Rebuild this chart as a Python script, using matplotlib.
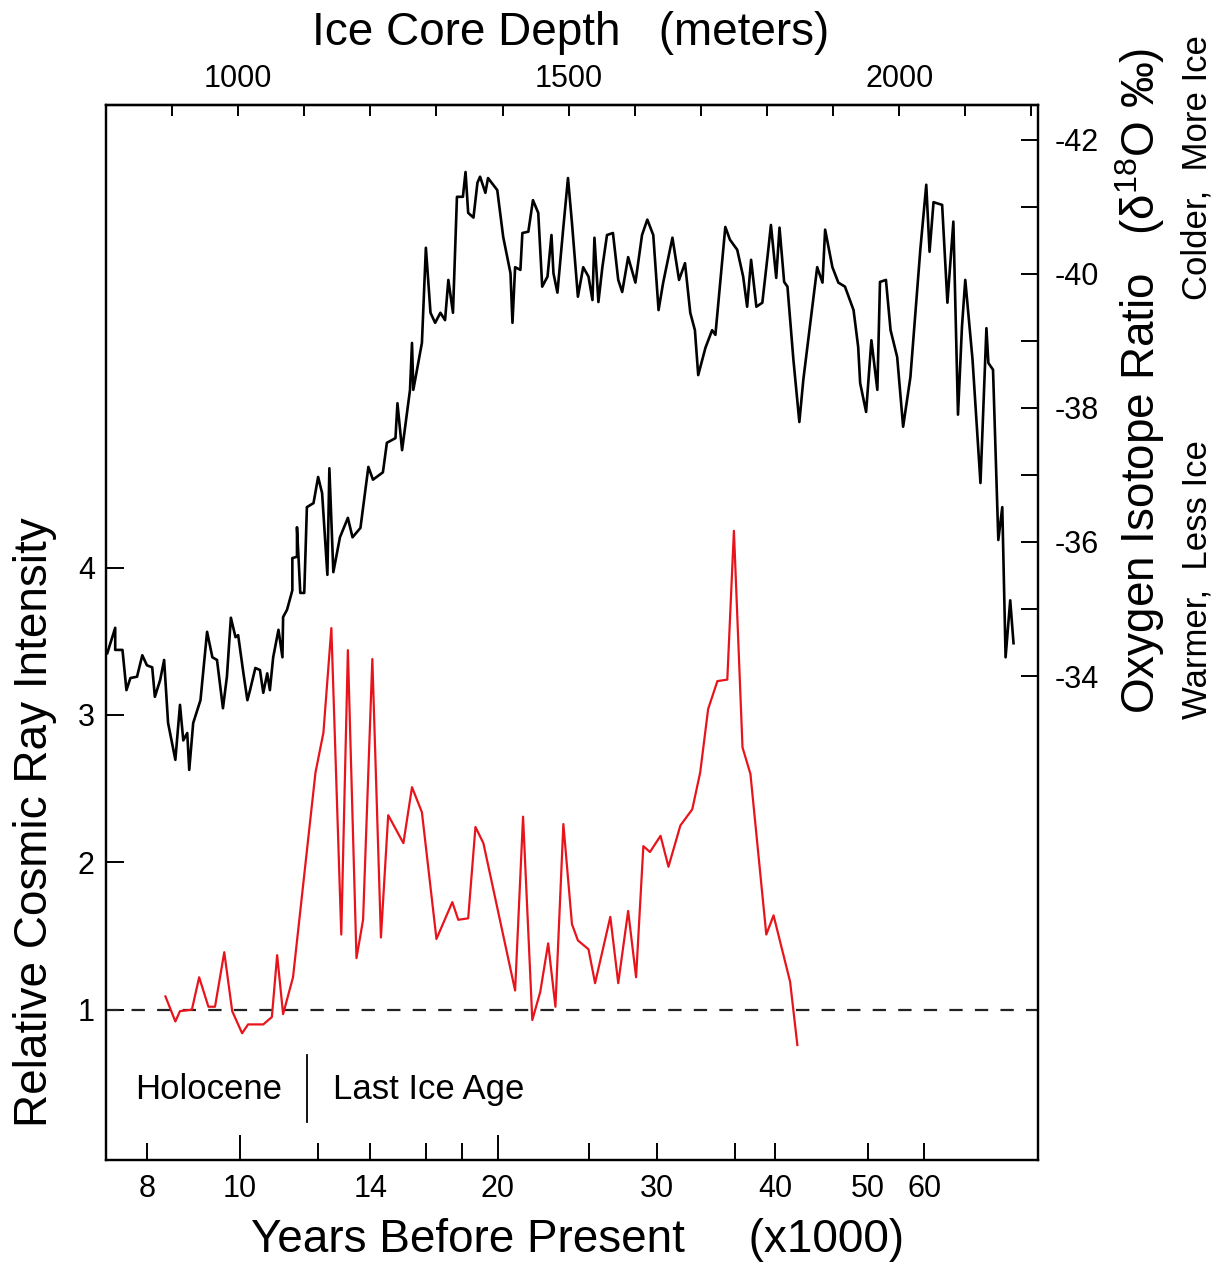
import matplotlib
matplotlib.use("Agg")
import matplotlib.pyplot as plt

plt.rcParams['font.family'] = ['Liberation Sans', 'DejaVu Sans']
plt.rcParams['mathtext.fontset'] = 'custom'
plt.rcParams['mathtext.rm'] = 'Liberation Sans'
plt.rcParams['axes.unicode_minus'] = False

# oxygen isotope record (black): ice core depth (m) -> d18O (per mil)
iso_depth = [802, 814, 814, 825, 831, 837, 847, 855, 862, 870,
             874, 882, 888, 894, 905, 912, 917, 923, 926, 932,
             943, 953, 961, 968, 977, 983, 989, 996, 1000, 1008,
             1014, 1018, 1026, 1033, 1038, 1044, 1048, 1053, 1061, 1067,
             1068, 1074, 1082, 1082, 1089, 1089, 1094, 1100, 1104, 1114,
             1121, 1127, 1135, 1138, 1144, 1154, 1166, 1173, 1185, 1197,
             1204, 1219, 1225, 1238, 1241, 1248, 1260, 1263, 1265, 1278,
             1284, 1291, 1298, 1306, 1313, 1318, 1325, 1331, 1340, 1344,
             1348, 1356, 1362, 1366, 1374, 1378, 1392, 1401, 1412, 1415,
             1419, 1427, 1430, 1439, 1446, 1454, 1460, 1468, 1474, 1477,
             1483, 1492, 1499, 1505, 1514, 1522, 1530, 1536, 1539, 1545,
             1551, 1558, 1567, 1575, 1581, 1590, 1601, 1611, 1619, 1628,
             1636, 1643, 1649, 1657, 1667, 1676, 1684, 1691, 1696, 1707,
             1717, 1722, 1737, 1744, 1755, 1764, 1770, 1776, 1784, 1793,
             1802, 1806, 1814, 1819, 1826, 1831, 1840, 1849, 1855, 1876,
             1884, 1888, 1899, 1908, 1918, 1931, 1938, 1941, 1950, 1958,
             1967, 1971, 1980, 1987, 1997, 2006, 2017, 2032, 2041, 2046,
             2052, 2065, 2073, 2082, 2089, 2095, 2100, 2111, 2123, 2132,
             2135, 2142, 2150, 2156, 2161, 2168, 2173]
iso_d18o = [-34.34, -34.72, -34.39, -34.39, -33.79, -33.97, -33.99, -34.31, -34.16, -34.13,
            -33.69, -33.94, -34.24, -33.30, -32.75, -33.57, -33.04, -33.15, -32.60, -33.30,
            -33.64, -34.66, -34.28, -34.24, -33.52, -33.99, -34.87, -34.58, -34.61, -34.04,
            -33.64, -33.79, -34.12, -34.09, -33.75, -34.04, -33.79, -34.28, -34.69, -34.28,
            -34.88, -34.99, -35.28, -35.76, -35.78, -36.22, -35.24, -35.24, -36.52, -36.58,
            -36.97, -36.73, -35.51, -37.10, -35.55, -36.07, -36.36, -36.07, -36.21, -37.12,
            -36.93, -37.04, -37.48, -37.55, -38.07, -37.37, -38.27, -38.97, -38.27, -38.97,
            -40.39, -39.42, -39.27, -39.42, -39.31, -39.91, -39.42, -41.15, -41.15, -41.52,
            -40.91, -40.84, -41.36, -41.45, -41.21, -41.43, -41.25, -40.55, -40.01, -39.27,
            -40.10, -40.06, -40.61, -40.63, -41.10, -40.91, -39.81, -39.96, -40.58, -40.01,
            -39.72, -40.70, -41.43, -40.76, -39.66, -40.10, -39.96, -39.61, -40.54, -39.58,
            -40.10, -40.58, -40.61, -39.91, -39.73, -40.25, -39.87, -40.58, -40.81, -40.58,
            -39.46, -39.87, -40.16, -40.54, -39.91, -40.16, -39.42, -39.16, -38.49, -38.90,
            -39.16, -39.09, -40.70, -40.51, -40.36, -39.96, -39.51, -40.21, -39.51, -39.57,
            -40.36, -40.73, -39.94, -40.69, -39.88, -39.81, -38.72, -37.79, -38.42, -40.10,
            -39.87, -40.66, -40.10, -39.87, -39.81, -39.46, -38.91, -38.37, -37.94, -39.01,
            -38.27, -39.88, -39.91, -39.16, -38.76, -37.72, -38.46, -40.36, -41.33, -40.33,
            -41.07, -41.03, -39.57, -40.78, -37.90, -39.21, -39.91, -38.72, -36.88, -39.19,
            -38.67, -38.57, -36.03, -36.52, -34.28, -35.13, -34.49]

# relative cosmic ray intensity (red)
cr_depth = [890, 905, 912, 930, 941, 955, 965, 979, 991, 1006,
            1015, 1038, 1051, 1059, 1068, 1083, 1117, 1129, 1141, 1156,
            1166, 1179, 1189, 1203, 1216, 1227, 1250, 1263, 1278, 1300,
            1324, 1333, 1348, 1359, 1371, 1419, 1431, 1445, 1457, 1469,
            1480, 1492, 1505, 1514, 1530, 1540, 1563, 1575, 1590, 1602,
            1613, 1623, 1639, 1651, 1669, 1687, 1699, 1711, 1725, 1740,
            1750, 1763, 1775, 1799, 1810, 1835, 1846]
cr_intensity = [1.09, 0.92, 0.99, 1.00, 1.22, 1.02, 1.02, 1.39, 0.99, 0.84,
                0.90, 0.90, 0.95, 1.37, 0.97, 1.22, 2.61, 2.88, 3.59, 1.51,
                3.44, 1.35, 1.61, 3.38, 1.49, 2.32, 2.13, 2.51, 2.34, 1.48,
                1.73, 1.61, 1.62, 2.24, 2.13, 1.13, 2.31, 0.93, 1.12, 1.45,
                1.02, 2.26, 1.58, 1.47, 1.41, 1.18, 1.63, 1.18, 1.67, 1.22,
                2.11, 2.07, 2.18, 1.97, 2.25, 2.36, 2.61, 3.04, 3.23, 3.24,
                4.25, 2.78, 2.60, 1.51, 1.64, 1.19, 0.76]

# age scale (kyr BP) placed on the depth axis
year_labels = [8, 10, 14, 20, 30, 40, 50, 60]
year_depth = [862, 1003, 1200, 1393, 1634, 1812, 1953, 2038]
year_minor_depth = [1121, 1284, 1339, 1531, 1752]   # 12, 16, 18, 25, 35

depth_major = [1000, 1500, 2000]
depth_minor = list(range(800, 2201, 100))
cr_ticks = [1, 2, 3, 4]
iso_major = [-42, -40, -38, -36, -34]
iso_minor = [-41, -39, -37, -35]

holocene_boundary = 1104

fig = plt.figure(figsize=(12.15, 12.68), dpi=100)
ax = fig.add_axes([0.0872, 0.0852, 0.7671, 0.832])
ax2 = ax.twinx()

ax.axhline(1, color='#222222', lw=1.6, dashes=(6, 5.5))
ax.plot(cr_depth, cr_intensity, color='#e8141c', lw=1.6)
ax2.plot(iso_depth, iso_d18o, color='black', lw=1.9)

ax.set_xlim(800, 2210)
ax.set_ylim(-0.02, 7.14)
ax2.set_ylim(-26.78, -42.52)

# bottom axis: years before present
ax.set_xticks(year_depth)
ax.set_xticklabels([str(y) for y in year_labels])
ax.set_xticks(year_minor_depth, minor=True)
ax.tick_params(axis='x', which='both', direction='in', length=12, width=1.4,
               labelsize=22, pad=10)
for t, y in zip(ax.xaxis.get_major_ticks(), year_labels):
    if y in (10, 20):
        t.tick1line.set_markersize(18)

ax.set_yticks(cr_ticks)
ax.tick_params(axis='y', direction='in', length=13, width=1.4, labelsize=22, pad=8)

ax2.set_yticks(iso_major)
ax2.set_yticks(iso_minor, minor=True)
ax2.tick_params(axis='y', which='both', direction='in', length=12, width=1.4,
                labelsize=22, pad=12)

# top axis: ice core depth
top = ax.secondary_xaxis('top')
top.set_xticks(depth_major)
top.set_xticks(depth_minor, minor=True)
top.tick_params(which='both', direction='in', length=8, width=1.4,
                labelsize=22, pad=8)

for a in (ax, ax2):
    for s in a.spines.values():
        s.set_linewidth(1.6)
top.spines['top'].set_linewidth(1.6)

# Holocene / Last Ice Age marker
ax.plot([holocene_boundary, holocene_boundary], [0.24, 0.69], color='black', lw=1.3)
ax.text(956, 0.46, 'Holocene', ha='center', va='center', fontsize=25)
ax.text(1144, 0.46, 'Last Ice Age', ha='left', va='center', fontsize=25)

fig.text(0.47, 0.974, 'Ice Core Depth   (meters)', ha='center', va='center', fontsize=33)
fig.text(0.475, 0.022, 'Years Before Present     (x1000)', ha='center', va='center',
         fontsize=33)
fig.text(0.029, 0.352, 'Relative Cosmic Ray Intensity', rotation=90,
         ha='center', va='center', fontsize=33)
fig.text(0.938, 0.70, r'Oxygen Isotope Ratio   (δ$^{18}$O ‰)', rotation=90,
         ha='center', va='center', fontsize=33)
fig.text(0.985, 0.868, 'Colder,  More Ice', rotation=90, ha='center', va='center',
         fontsize=25)
fig.text(0.985, 0.543, 'Warmer,  Less Ice', rotation=90, ha='center', va='center',
         fontsize=25)

fig.savefig('out.png', dpi=100)
